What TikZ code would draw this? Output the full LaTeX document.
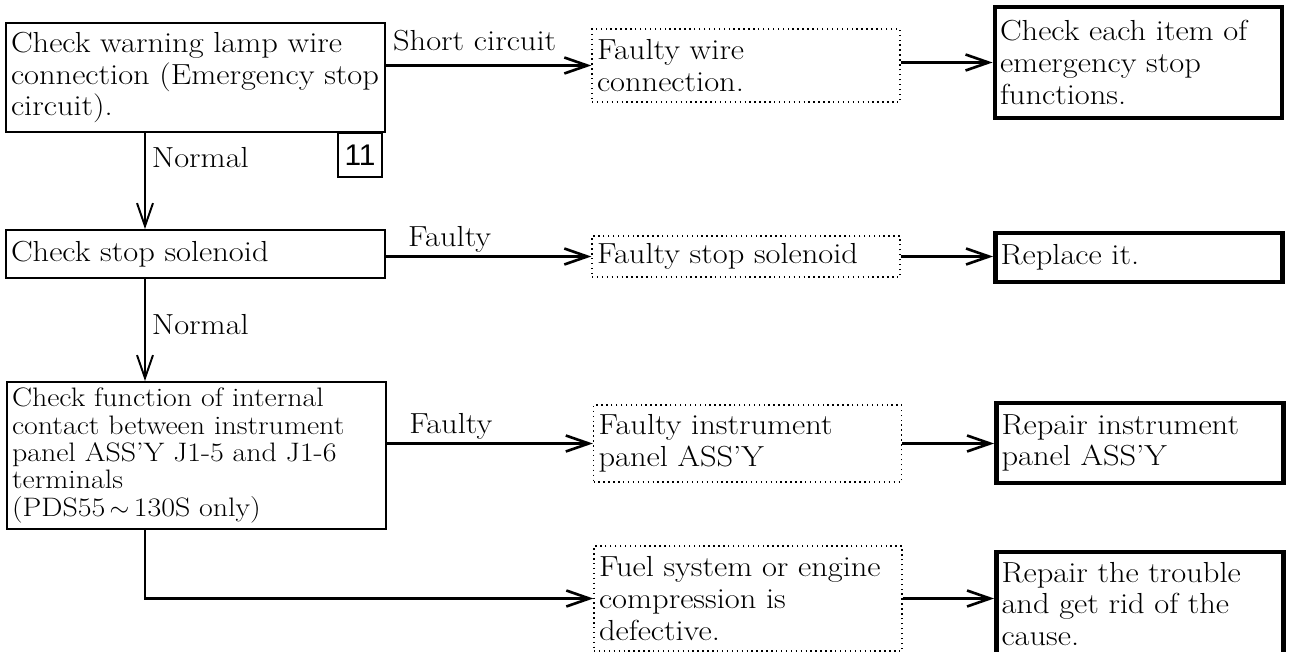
\documentclass[tikz,border=0pt]{standalone}
\usepackage{fontspec}
\setmainfont{Latin Modern Roman}[FakeStretch=1.12]
\newfontfamily\numfont{Liberation Sans}
\usetikzlibrary{arrows.meta}

\begin{document}
\begin{tikzpicture}[
    x=0.02cm, y=-0.02cm,
    font=\fontsize{16.5}{18}\selectfont,
    >={Straight Barb[length=0.46cm,width=0.32cm]},
    check/.style={
        draw, line width=1.1pt, rectangle, inner xsep=0.1cm, inner ysep=0.05cm,
        text width=7.38cm, align=left
    },
    fault/.style={
        draw, dotted, line width=0.8pt, rectangle, inner xsep=0.1cm, inner ysep=0.05cm,
        text width=5.96cm, align=left
    },
    remedy/.style={
        draw, line width=2.8pt, rectangle, inner xsep=0.1cm, inner ysep=0.05cm,
        text width=5.54cm, align=left
    },
    tag/.style={
        draw, line width=1.1pt, rectangle, minimum size=0.88cm, inner sep=0pt,
        font=\numfont\fontsize{17}{18}\selectfont
    },
    flow/.style={->, line width=1.1pt},
    branch/.style={->, line width=1.5pt},
    lbl/.style={anchor=base, yshift=0.2cm}
]
\useasboundingbox (0,0) rectangle (1289,652);

\node[check, minimum height=2.18cm] (lampwire) at (195.5,77.5) {Check warning lamp wire\\connection (Emergency stop\\circuit).};
\node[tag] (refno) at (360,155) {11};
\node[check, minimum height=0.96cm] (stopsol) at (195.5,254) {Check stop solenoid};
\node[check, minimum height=2.94cm, font=\fontsize{15.2}{15.6}\selectfont] (contact) at (196.5,455.5) {Check function of internal\\contact between instrument\\panel ASS'Y J1-5 and J1-6\\terminals\\(PDS55{\,$\sim$\,}130S only)};

\node[fault, minimum height=1.46cm] (wirefault) at (746,65.5) {Faulty wire\\connection.};
\node[fault, minimum height=0.82cm] (solfault) at (746,256.5) {Faulty stop solenoid};
\node[fault, minimum height=1.54cm] (panelfault) at (747.5,443.5) {Faulty instrument\\panel ASS'Y};
\node[fault, minimum height=2.1cm] (fuelfault) at (748,598.5) {Fuel system or engine\\compression is\\defective.};

\node[remedy, minimum height=2.22cm] (itemcheck) at (1138.5,62.5) {Check each item of\\emergency stop\\functions.};
\node[remedy, minimum height=0.98cm] (replace) at (1139,257.5) {Replace it.};
\node[remedy, minimum height=1.6cm] (panelfix) at (1140,443) {Repair instrument\\panel ASS'Y};
\node[remedy, minimum height=2.08cm] (causefix) at (1140,604) {Repair the trouble\\and get rid of the\\cause.};

\coordinate (stem) at (145,0);
\draw[flow] (lampwire.south -| stem) -- node[right, pos=0.26] {Normal} (stopsol.north -| stem);
\draw[flow] (stopsol.south -| stem) -- node[right, pos=0.45] {Normal} (contact.north -| stem);
\draw[branch] (lampwire.east |- wirefault.west) -- node[anchor=base west, pos=0, yshift=0.3cm] {Short circuit} (wirefault.west);
\draw[branch] (wirefault.east |- itemcheck.west) -- (itemcheck.west);
\draw[branch] (stopsol.east |- solfault.west) -- node[lbl, pos=0.31] {Faulty} (solfault.west);
\draw[branch] (solfault.east) -- (solfault.east -| replace.west);
\draw[branch] (contact.east |- panelfault.west) -- node[lbl, pos=0.31] {Faulty} (panelfault.west);
\draw[branch] (panelfault.east) -- (panelfault.east -| panelfix.west);
\draw[branch] (contact.south -| stem) |- (fuelfault.west);
\draw[branch] (fuelfault.east) -- (fuelfault.east -| causefix.west);
\end{tikzpicture}
\end{document}
